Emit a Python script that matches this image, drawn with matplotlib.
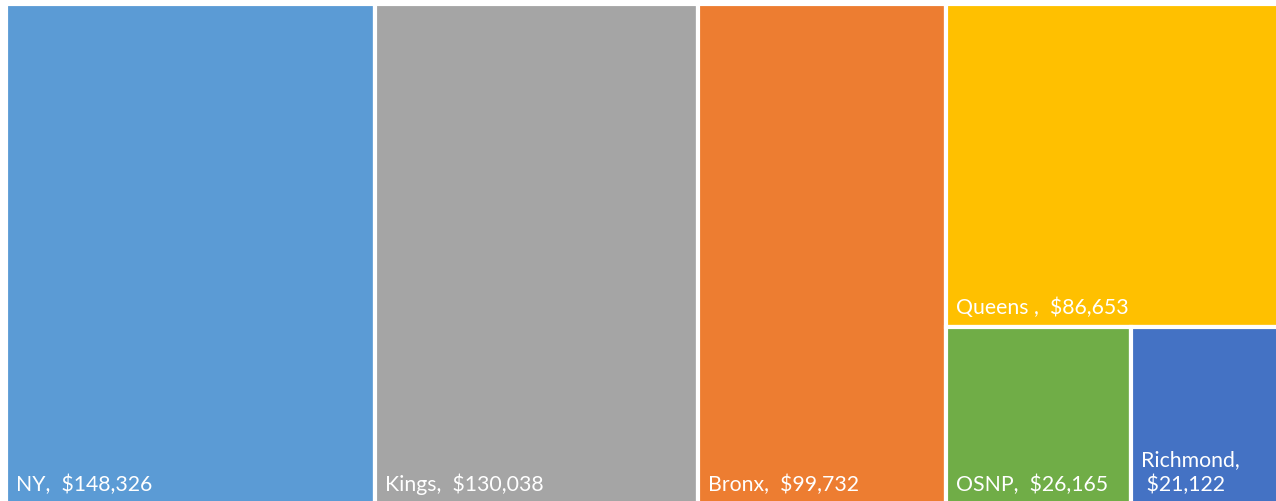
"""
Treemap of borough totals
"""

import matplotlib.pyplot as plt
from matplotlib.patches import Rectangle

plt.rcParams['font.family'] = ['Lato', 'DejaVu Sans']

# data
names = ['NY', 'Kings', 'Bronx', 'Queens', 'OSNP', 'Richmond']
values = [148326, 130038, 99732, 86653, 26165, 21122]
labels = ['NY,  $148,326', 'Kings,  $130,038', 'Bronx,  $99,732',
          'Queens ,  $86,653', 'OSNP,  $26,165', 'Richmond,\n $21,122']
colors = ['#5B9BD5', '#A5A5A5', '#ED7D31', '#FFC000', '#70AD47', '#4472C4']


def layout(vals, W, H):
    """
    three vertical slices, then last column: one on top, two side by side below
    """
    total = sum(vals)
    rects = []
    x = 0.0
    for v in vals[:3]:
        w = W * v / total
        rects.append((x, 0.0, w, H))
        x += w
    rest = vals[3:]
    w = W - x
    rs = sum(rest)
    h_top = H * rest[0] / rs
    rects.append((x, H - h_top, w, h_top))
    bottom = rest[1:]
    bs = sum(bottom)
    bx = x
    for v in bottom:
        bw = w * v / bs
        rects.append((bx, 0.0, bw, H - h_top))
        bx += bw
    return rects


W, H = 1274.0, 500.0
rects = layout(values, W, H)

fig = plt.figure(figsize=(12.76, 5.02), dpi=100)
ax = fig.add_axes([5.5 / 1276, -3 / 502, W / 1276, H / 502])
ax.set_xlim(0, W)
ax.set_ylim(0, H)
ax.axis('off')

for (x, y, w, h), c, lab in zip(rects, colors, labels):
    ax.add_patch(Rectangle((x, y), w, h, facecolor=c, edgecolor='white', linewidth=3))
    ax.text(x + 10, y + 10, lab, color='white', fontsize=15.3, ha='left', va='bottom',
            linespacing=1.25)

fig.savefig('out.png', dpi=100)
